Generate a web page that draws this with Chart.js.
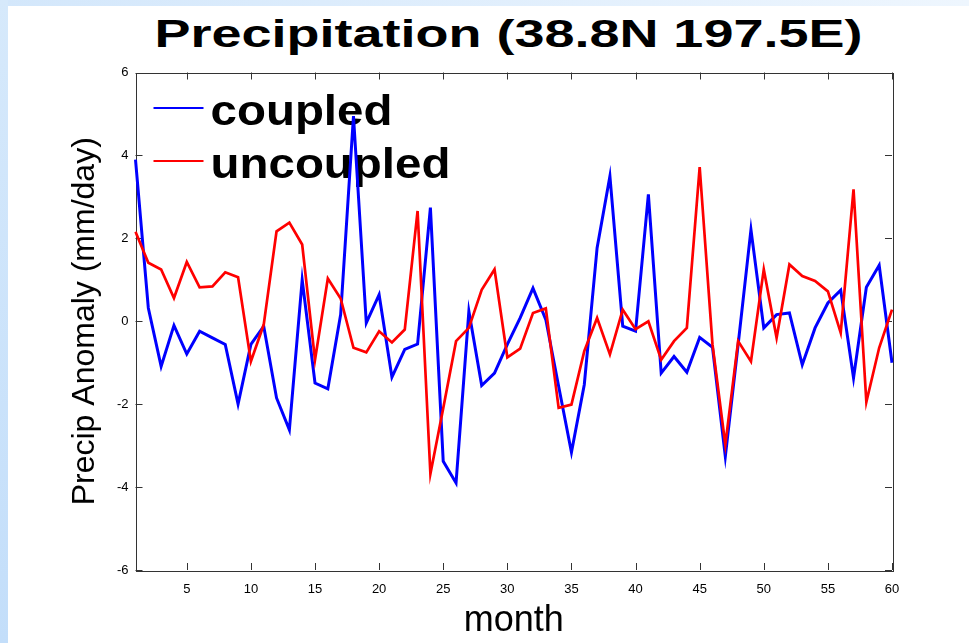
<!DOCTYPE html>
<html>
<head>
<meta charset="utf-8">
<script src="https://cdn.jsdelivr.net/npm/chart.js@4.4.1/dist/chart.umd.min.js"></script>
<style>
  html, body { margin: 0; padding: 0; background: #fff; }
  #wrap { position: relative; width: 969px; height: 643px; overflow: hidden; background: #fff; }
  #topband { position: absolute; left: 0; top: 0; width: 969px; height: 6px; background: linear-gradient(to right, #d3e7fb, #eef6fe); }
  #leftband { position: absolute; left: 0; top: 0; width: 8px; height: 643px; background: linear-gradient(to bottom, #d6e9fb, #c3defa); }
  #title { position: absolute; left: 24px; top: 15px; width: 969px; text-align: center; color: #000;
           font: bold 38px "Liberation Sans", Arial, sans-serif; line-height: 38px; white-space: nowrap;
           transform: scaleX(1.42); transform-origin: center; }
  #box { position: absolute; left: 0; top: 0; width: 969px; height: 643px; }
</style>
</head>
<body>
<div id="wrap">
  <div id="topband"></div>
  <div id="leftband"></div>
  <div id="title">Precipitation (38.8N 197.5E)</div>
  <div id="box"><canvas id="precipChart"></canvas></div>
</div>
<script>
// data
const months = [1,2,3,4,5,6,7,8,9,10,11,12,13,14,15,16,17,18,19,20,
  21,22,23,24,25,26,27,28,29,30,31,32,33,34,35,36,37,38,39,40,
  41,42,43,44,45,46,47,48,49,50,51,52,53,54,55,56,57,58,59,60];
const coupled = [3.9,0.32,-1.09,-0.1,-0.79,-0.24,-0.4,-0.56,-2.0,-0.56,
  -0.12,-1.85,-2.62,1.0,-1.49,-1.63,0.16,4.95,-0.04,0.64,
  -1.35,-0.68,-0.55,2.74,-3.38,-3.9,0.24,-1.55,-1.25,-0.56,
  0.08,0.8,0.04,-1.57,-3.16,-1.53,1.77,3.5,-0.12,-0.24,
  3.06,-1.25,-0.85,-1.23,-0.39,-0.63,-3.26,-0.56,2.21,-0.16,
  0.16,0.2,-1.05,-0.16,0.44,0.75,-1.37,0.82,1.35,-1.0];
const uncoupled = [2.16,1.41,1.25,0.56,1.43,0.82,0.84,1.18,1.06,-0.97,
  -0.08,2.17,2.38,1.85,-0.93,1.03,0.55,-0.64,-0.75,-0.24,
  -0.51,-0.2,2.66,-3.68,-2.1,-0.48,-0.16,0.76,1.25,-0.87,
  -0.66,0.2,0.31,-2.09,-2.01,-0.72,0.08,-0.8,0.28,-0.19,
  0.0,-0.93,-0.48,-0.16,3.72,-0.56,-2.98,-0.48,-0.97,1.25,
  -0.4,1.37,1.09,0.97,0.72,-0.28,3.18,-1.95,-0.64,0.28];
const xTicks = [5,10,15,20,25,30,35,40,45,50,55,60];
const yTicks = [-6,-4,-2,0,2,4,6];

Chart.defaults.font.family = '"Liberation Sans", Arial, sans-serif';
Chart.defaults.color = '#000';

// matlab style box, inward ticks and the legend (drawn under the lines)
const frameAndLegend = {
  id: 'frameAndLegend',
  beforeDatasetsDraw(chart) {
    const { ctx, chartArea: a, scales: { x, y } } = chart;
    ctx.save();
    ctx.strokeStyle = '#333';
    ctx.lineWidth = 1;
    ctx.strokeRect(Math.round(a.left) + 0.5, Math.round(a.top) + 0.5,
      Math.round(a.right - a.left), Math.round(a.bottom - a.top));
    ctx.beginPath();
    xTicks.forEach(m => {
      const px = Math.round(x.getPixelForValue(months.indexOf(m))) + 0.5;
      ctx.moveTo(px, a.bottom); ctx.lineTo(px, a.bottom - 7);
      ctx.moveTo(px, a.top); ctx.lineTo(px, a.top + 7);
    });
    yTicks.forEach(v => {
      const py = Math.round(y.getPixelForValue(v)) + 0.5;
      ctx.moveTo(a.left, py); ctx.lineTo(a.left + 7, py);
      ctx.moveTo(a.right, py); ctx.lineTo(a.right - 7, py);
    });
    ctx.stroke();

    ctx.font = 'bold 42px "Liberation Sans", Arial, sans-serif';
    chart.data.datasets.forEach((ds, i) => {
      const cy = a.top + 35.5 + i * 53;
      ctx.strokeStyle = ds.borderColor;
      ctx.lineWidth = 2;
      ctx.beginPath();
      ctx.moveTo(a.left + 18, cy);
      ctx.lineTo(a.left + 68, cy);
      ctx.stroke();
      ctx.save();
      ctx.translate(a.left + 75, cy + 17);
      ctx.scale(1.13, 1);
      ctx.fillStyle = '#000';
      ctx.fillText(ds.label, 0, 0);
      ctx.restore();
    });
    ctx.restore();
  }
};

new Chart(document.getElementById('precipChart'), {
  type: 'line',
  data: {
    labels: months,
    datasets: [
      { label: 'coupled', data: coupled, borderColor: '#0000ff', borderWidth: 3, order: 1 },
      { label: 'uncoupled', data: uncoupled, borderColor: '#ff0000', borderWidth: 2.7, order: 0 }
    ]
  },
  options: {
    responsive: true,
    maintainAspectRatio: false,
    animation: false,
    elements: { point: { radius: 0 }, line: { tension: 0, fill: false } },
    layout: { padding: { top: 72.5, right: 77, left: 0, bottom: 0 } },
    plugins: { legend: { display: false }, tooltip: { enabled: false } },
    scales: {
      x: {
        type: 'category',
        offset: false,
        grid: { display: false, drawTicks: false },
        border: { display: false },
        ticks: {
          autoSkip: false, maxRotation: 0, padding: 12, font: { size: 13 },
          callback: (v, i) => xTicks.includes(months[i]) ? String(months[i]) : ''
        },
        title: { display: true, text: 'month', font: { size: 36 }, padding: 0 },
        afterFit: s => { s.height = 73; }
      },
      y: {
        min: -6, max: 6,
        grid: { display: false, drawTicks: false },
        border: { display: false },
        ticks: { stepSize: 2, padding: 7, font: { size: 13 } },
        afterBuildTicks: s => { s.ticks = yTicks.map(v => ({ value: v })); },
        title: { display: true, text: 'Precip Anomaly (mm/day)', font: { size: 32 }, padding: { top: 66, bottom: 0 } },
        afterFit: s => { s.width = 135.5; }
      }
    }
  },
  plugins: [frameAndLegend]
});
</script>
</body>
</html>
